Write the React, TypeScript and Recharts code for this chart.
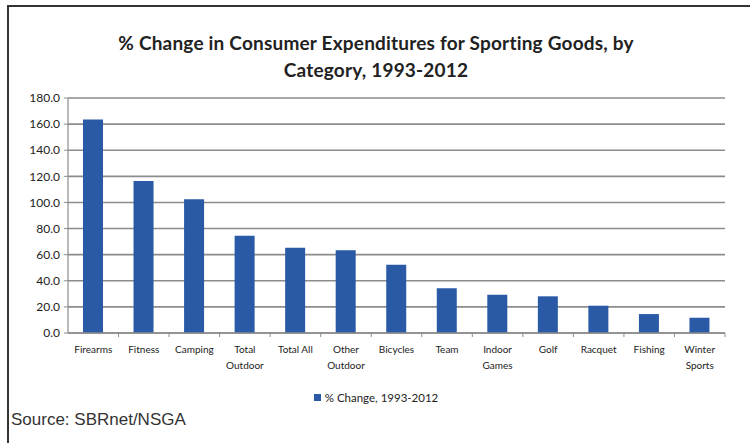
import React from 'react';
import { BarChart, Bar, XAxis, YAxis, CartesianGrid } from 'recharts';

const CATEGORIES = [
  'Firearms', 'Fitness', 'Camping', 'Total\nOutdoor', 'Total All', 'Other\nOutdoor',
  'Bicycles', 'Team', 'Indoor\nGames', 'Golf', 'Racquet', 'Fishing', 'Winter\nSports',
];
const CHANGE_VALUES = [163.6, 116.4, 102.4, 74.5, 65.3, 63.3, 52.3, 34.2, 29.3, 28.1, 20.9, 14.5, 11.7];
const Y_TICKS = [0, 20, 40, 60, 80, 100, 120, 140, 160, 180];
const SERIES_NAME = '% Change, 1993-2012';
const TITLE_LINES = ['% Change in Consumer Expenditures for Sporting Goods, by', 'Category, 1993-2012'];
const SOURCE = 'Source: SBRnet/NSGA';

const BAR_COLOR = '#2A5AA6';
const GRID_COLOR = '#8c8c8c';
const FONT = 'Lato, "Open Sans", sans-serif';

const data = CATEGORIES.map((name, i) => ({ name, value: CHANGE_VALUES[i] }));

const CategoryTick = (props: any) => {
  const { x, y, payload } = props;
  const lines = String(payload.value).split('\n');
  const half = payload.offset ?? 0;
  return (
    <g>
      <line x1={x + half} y1={y - 8} x2={x + half} y2={y - 4} stroke={GRID_COLOR} strokeWidth={1} />
      <text x={x} y={y + 12} textAnchor="middle" fontFamily={FONT} fontSize={10} fill="#222">
        {lines.map((l, i) => (
          <tspan key={i} x={x} dy={i === 0 ? 0 : 16}>{l}</tspan>
        ))}
      </text>
    </g>
  );
};

export default function App() {
  return (
    <div style={{ position: 'absolute', left: 0, top: 0, width: 750, height: 443, background: '#fff', overflow: 'hidden' }}>
      <div style={{ position: 'absolute', left: 8, top: 5, right: 0, height: 2, background: '#333' }} />
      <div style={{ position: 'absolute', left: 7, top: 5, width: 2, bottom: 0, background: '#333' }} />

      <div style={{
        position: 'absolute', left: 0, top: 29, width: 752, textAlign: 'center',
        fontFamily: FONT, fontWeight: 700, fontSize: 19, lineHeight: '27px', color: '#222',
        letterSpacing: 0.2,
      }}>
        {TITLE_LINES.map((t) => <div key={t}>{t}</div>)}
      </div>

      <div style={{ position: 'absolute', left: 0, top: 0 }}>
        <BarChart
          width={750}
          height={443}
          data={data}
          margin={{ top: 98, right: 25, bottom: 70, left: 8 }}
          barSize={20}
        >
          <CartesianGrid vertical={false} stroke={GRID_COLOR} strokeWidth={1.6} />
          <XAxis
            dataKey="name"
            interval={0}
            tickLine={false}
            axisLine={{ stroke: GRID_COLOR, strokeWidth: 1.6 }}
            tick={<CategoryTick />}
            height={40}
          />
          <YAxis
            width={60}
            domain={[0, 180]}
            ticks={Y_TICKS}
            interval={0}
            tickFormatter={(v: number) => v.toFixed(1)}
            tick={{ fontFamily: FONT, fontSize: 12, fill: '#222' }}
            tickLine={{ stroke: GRID_COLOR }}
            tickSize={4}
            tickMargin={4}
            axisLine={{ stroke: GRID_COLOR, strokeWidth: 1.2 }}
          />
          <Bar dataKey="value" name={SERIES_NAME} fill={BAR_COLOR} isAnimationActive={false} />
        </BarChart>
      </div>

      <div style={{
        position: 'absolute', left: 0, top: 391, width: 752, display: 'flex', justifyContent: 'center',
        alignItems: 'center', fontFamily: FONT, fontSize: 11.5, color: '#222',
      }}>
        <span style={{ display: 'inline-block', width: 7, height: 7, background: BAR_COLOR, marginRight: 4 }} />
        <span>{SERIES_NAME}</span>
      </div>

      <div style={{
        position: 'absolute', left: 11, top: 410, fontFamily: '"Liberation Sans", Arial, sans-serif',
        fontSize: 17, color: '#333',
      }}>
        {SOURCE}
      </div>
    </div>
  );
}
